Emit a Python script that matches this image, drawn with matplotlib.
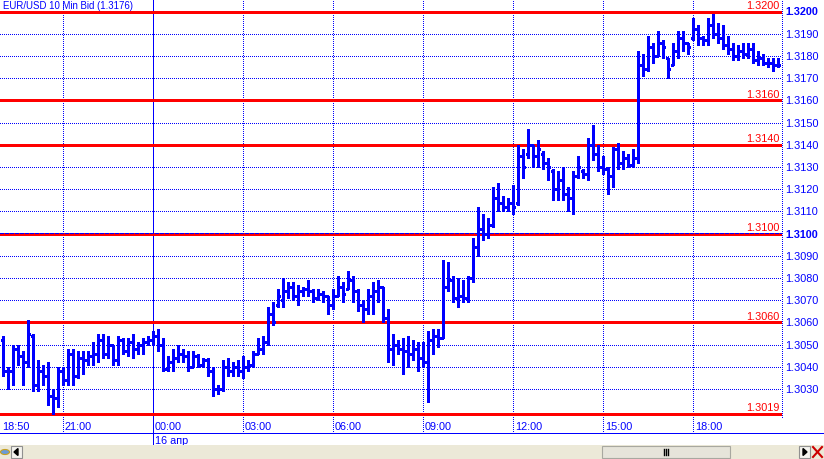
import numpy as np
import matplotlib
matplotlib.use("Agg")
import matplotlib.pyplot as plt
from matplotlib.collections import LineCollection
from matplotlib.patches import Rectangle, Polygon
from matplotlib.lines import Line2D

###############################################################################
# DATA  (10 min bars, prices in pips above 1.3000)
###############################################################################

high_pips = [
    54, 40, 50, 50, 47, 61, 55, 43, 41, 42,
    30, 40, 40, 48, 48, 47, 47, 47, 51, 55,
    55, 54, 50, 54, 53, 53, 55, 51, 53, 54,
    56, 57, 53, 45, 48, 50, 48, 47, 47, 46,
    44, 44, 40, 32, 43, 44, 42, 43, 45, 43,
    47, 53, 54, 67, 69, 75, 80, 78, 78, 77,
    76, 79, 75, 75, 74, 72, 75, 81, 78, 83,
    81, 75, 70, 75, 78, 79, 76, 66, 55, 52,
    53, 54, 52, 51, 51, 56, 57, 57, 88, 87,
    81, 80, 79, 81, 98, 112, 109, 107, 121, 123,
    117, 116, 122, 140, 138, 147, 140, 142, 137, 134,
    129, 128, 130, 121, 128, 135, 129, 143, 149, 140,
    135, 130, 139, 141, 137, 136, 138, 182, 181, 189,
    186, 191, 187, 179, 186, 191, 191, 186, 197, 194,
    189, 197, 199, 195, 194, 189, 186, 185, 186, 186,
    186, 182, 181, 179, 179, 179,
]
low_pips = [
    36, 30, 32, 41, 32, 40, 29, 29, 32, 23,
    19, 22, 32, 32, 32, 35, 37, 41, 41, 42,
    44, 44, 41, 41, 46, 45, 44, 46, 46, 50,
    50, 47, 38, 38, 38, 42, 42, 38, 40, 40,
    40, 36, 27, 28, 29, 36, 36, 36, 35, 38,
    40, 46, 46, 50, 59, 67, 67, 71, 70, 68,
    72, 72, 69, 70, 69, 64, 66, 72, 69, 75,
    69, 65, 60, 64, 64, 69, 60, 42, 41, 46,
    37, 40, 43, 38, 40, 24, 46, 49, 53, 74,
    69, 67, 69, 69, 78, 90, 97, 98, 103, 110,
    110, 110, 109, 113, 125, 134, 130, 130, 129, 124,
    115, 115, 115, 110, 109, 125, 125, 124, 133, 128,
    127, 118, 121, 129, 129, 130, 130, 132, 171, 173,
    177, 180, 179, 170, 176, 179, 182, 181, 187, 185,
    185, 185, 188, 186, 183, 181, 178, 178, 179, 179,
    177, 176, 176, 175, 173, 175,
]
open_pips = [
    52, 38, 38, 48, 45, 42, 54, 32, 38, 36,
    27, 26, 38, 34, 46, 36, 44, 43, 45, 46,
    52, 46, 50, 43, 52, 47, 51, 48, 50, 51,
    52, 54, 50, 39, 42, 44, 46, 45, 40, 45,
    41, 43, 38, 30, 30, 40, 38, 40, 38, 40,
    41, 46, 48, 51, 64, 68, 70, 74, 76, 72,
    74, 75, 74, 71, 73, 72, 68, 72, 76, 75,
    79, 74, 68, 66, 72, 74, 76, 62, 48, 50,
    48, 47, 46, 48, 44, 42, 52, 54, 53, 76,
    79, 71, 72, 71, 80, 94, 102, 100, 104, 116,
    114, 112, 114, 114, 135, 136, 140, 135, 136, 132,
    128, 120, 124, 118, 116, 126, 128, 127, 140, 136,
    130, 129, 126, 138, 132, 134, 131, 134, 176, 174,
    184, 180, 186, 179, 176, 182, 188, 186, 188, 192,
    188, 187, 194, 190, 188, 185, 183, 180, 182, 181,
    183, 178, 179, 177, 177, 176,
]
close_pips = [
    38, 38, 48, 45, 42, 55, 32, 38, 36, 27,
    26, 38, 34, 46, 36, 44, 43, 45, 46, 52,
    46, 50, 43, 52, 47, 51, 48, 50, 51, 52,
    54, 50, 39, 42, 44, 46, 45, 40, 45, 41,
    43, 38, 30, 30, 40, 38, 40, 38, 40, 41,
    46, 48, 51, 64, 60, 72, 74, 76, 72, 74,
    75, 74, 71, 73, 72, 68, 72, 76, 73, 79,
    74, 68, 66, 72, 74, 76, 62, 48, 50, 48,
    47, 46, 48, 44, 42, 52, 54, 53, 76, 79,
    71, 72, 71, 80, 94, 102, 100, 104, 116, 114,
    112, 114, 112, 135, 130, 140, 135, 138, 132, 130,
    120, 124, 118, 116, 126, 130, 127, 140, 136, 130,
    129, 126, 138, 132, 134, 131, 134, 176, 174, 184,
    180, 186, 184, 174, 182, 188, 186, 184, 192, 188,
    187, 194, 190, 188, 185, 183, 180, 182, 181, 183,
    178, 179, 177, 177, 176, 176,
]

title = "EUR/USD 10 Min Bid (1.3176)"
first_time_label = "18:50"
time_labels = ["21:00", "00:00", "03:00", "06:00", "09:00", "12:00", "15:00", "18:00"]
time_bar_index = [12, 30, 48, 66, 84, 102, 120, 138]
day_break_index = 30
day_label = "16 апр"
level_lines = [1.3200, 1.3160, 1.3140, 1.3100, 1.3060, 1.3019]
price_ticks = [1.3030, 1.3040, 1.3050, 1.3060, 1.3070, 1.3080, 1.3090,
               1.3100, 1.3110, 1.3120, 1.3130, 1.3140, 1.3150, 1.3160,
               1.3170, 1.3180, 1.3190, 1.3200]
bold_ticks = [1.3200, 1.3100]

###############################################################################
# LAYOUT
###############################################################################

BLUE = "#0000FF"
RED = "#FF0000"
W, H = 824, 460
PLOT_R = 782           # right edge of price area (px)
AX_BOT = 434           # bottom blue line (px from top)
PX_PER_UNIT = 22210.0  # pixels per 1.0 price
REF_Y = 12.5           # pixel row of 1.3200
PX = 0.72              # one pixel in points


def price_at(ypx):
    return 1.3200 - (ypx - REF_Y) / PX_PER_UNIT


plt.rcParams['font.family'] = ['Liberation Sans', 'DejaVu Sans']
plt.rcParams['lines.scale_dashes'] = False
fs = 7.8

fig = plt.figure(figsize=(W / 100, H / 100), dpi=100)
fig.patch.set_facecolor("white")
ax = fig.add_axes([0, (H - AX_BOT) / H, PLOT_R / W, AX_BOT / H])
ax.set_axis_off()
ax.set_xlim(-0.6, (PLOT_R - 3) / 5)
ax.set_ylim(price_at(AX_BOT), price_at(0))

dots = (0, (PX, 2 * PX))

# horizontal dotted grid
for p in price_ticks:
    ax.axhline(p, color=BLUE, lw=PX, ls=dots, antialiased=False, zorder=1)

# vertical dotted grid / day separator
for idx in time_bar_index:
    if idx == day_break_index:
        ax.plot([idx, idx], [price_at(446), price_at(0)], color=BLUE, lw=PX,
                antialiased=False, clip_on=False, zorder=1)
    else:
        ax.axvline(idx, color=BLUE, lw=PX, ls=dots, antialiased=False, zorder=1)

# level lines
for p in level_lines:
    ax.axhline(p, color=RED, lw=2.6 * PX, antialiased=False, zorder=2)
    ax.text(0.997, p + 1.5 / PX_PER_UNIT, f"{p:.4f}", color=RED, fontsize=fs,
            ha="right", va="bottom", transform=ax.get_yaxis_transform(), zorder=5)
ax.axhline(1.3100 + 1.0 / PX_PER_UNIT, color=BLUE, lw=PX, ls=(0, (4 * PX, 2 * PX)),
           antialiased=False, zorder=3)

# OHLC bars
highs = 1.3 + np.array(high_pips) / 10000
lows = 1.3 + np.array(low_pips) / 10000
opens = 1.3 + np.array(open_pips) / 10000
closes = 1.3 + np.array(close_pips) / 10000
xs = np.arange(len(highs))

segs = []
for x, o, h, l, c in zip(xs, opens, highs, lows, closes):
    segs.append([(x, l), (x, h)])
    segs.append([(x - 0.45, o), (x, o)])
    segs.append([(x, c), (x + 0.45, c)])
bars = LineCollection(segs, colors=BLUE, linewidths=3 * PX, antialiaseds=False,
                      capstyle="butt", zorder=4)
ax.add_collection(bars)

# title
ax.text(3 / PLOT_R, price_at(6), title, color=BLUE, fontsize=6.9,
        ha="left", va="center", transform=ax.get_yaxis_transform())

# right price scale
for p in price_ticks:
    ax.text(785 / PLOT_R, p, f"{p:.4f}", color=BLUE, fontsize=fs,
            fontweight="bold" if p in bold_ticks else "normal",
            ha="left", va="center", transform=ax.get_yaxis_transform(), clip_on=False)
fig.add_artist(Line2D([781.5 / W] * 2, [(H - 418) / H, 1], color=BLUE, lw=PX,
                      ls=dots, antialiased=False))

# time labels
ax.text(-0.2, price_at(427), first_time_label, color=BLUE, fontsize=fs,
        ha="left", va="center")
for idx, lab in zip(time_bar_index, time_labels):
    ax.text(idx + 0.35, price_at(427), lab, color=BLUE, fontsize=fs,
            ha="left", va="center")
ax.text(day_break_index + 0.35, price_at(441), day_label, color=BLUE, fontsize=fs,
        ha="left", va="center", clip_on=False)

# bottom line across full width
fig.add_artist(Line2D([0, 1], [(H - AX_BOT) / H] * 2, color=BLUE, lw=PX,
                      antialiased=False))

# scroll bar strip
fig.add_artist(Rectangle((0, 0), 1, 14 / H, transform=fig.transFigure,
                         facecolor="#ECE9D8", edgecolor="none"))
fig.add_artist(Rectangle((602 / W, 1 / H), 128 / W, 12 / H, transform=fig.transFigure,
                         facecolor="#E6E4DA", edgecolor="#A8A8A0", lw=0.8))
for dx in (-2, 0, 2):
    fig.add_artist(Line2D([(666 + dx) / W] * 2, [4 / H, 10 / H], color="black", lw=1.0))
fig.add_artist(Rectangle((11 / W, 1 / H), 11 / W, 12 / H, transform=fig.transFigure,
                         facecolor="#F4F3EE", edgecolor="#909090", lw=0.8))
fig.add_artist(Polygon([(14 / W, 7 / H), (18 / W, 10.5 / H), (18 / W, 3.5 / H)],
                       closed=True, transform=fig.transFigure, color="black"))
fig.add_artist(Rectangle((799 / W, 1 / H), 11 / W, 12 / H, transform=fig.transFigure,
                         facecolor="#F4F3EE", edgecolor="#909090", lw=0.8))
fig.add_artist(Polygon([(807 / W, 7 / H), (803 / W, 10.5 / H), (803 / W, 3.5 / H)],
                       closed=True, transform=fig.transFigure, color="black"))
fig.add_artist(Line2D([813 / W, 822 / W], [2 / H, 12 / H], color="#CC0000", lw=1.5))
fig.add_artist(Line2D([813 / W, 822 / W], [12 / H, 2 / H], color="#CC0000", lw=1.5))
fig.add_artist(plt.Circle((5 / W, 7 / H), 4.5 / W, transform=fig.transFigure,
                          facecolor="#6A9BD8", edgecolor="#C8A020", lw=0.8))

fig.savefig("out.png", dpi=100, facecolor="white")
